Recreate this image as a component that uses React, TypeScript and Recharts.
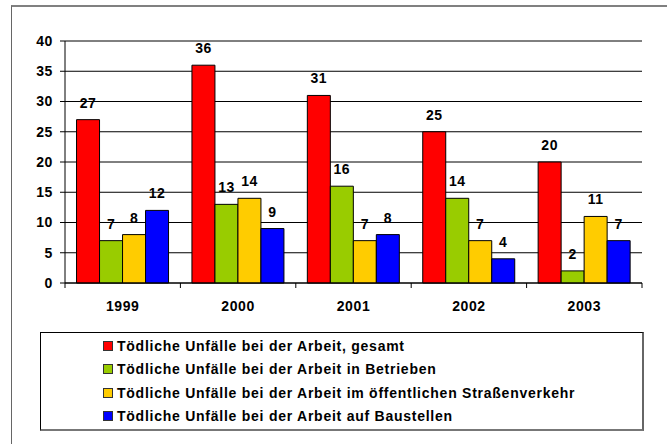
import { BarChart, Bar, XAxis, YAxis, CartesianGrid, Legend, LabelList } from 'recharts'

const years = ['1999', '2000', '2001', '2002', '2003']
const gesamt = [27, 36, 31, 25, 20]
const betrieben = [7, 13, 16, 14, 2]
const strassenverkehr = [8, 14, 7, 7, 11]
const baustellen = [12, 9, 8, 4, 7]
const yTicks = [0, 5, 10, 15, 20, 25, 30, 35, 40]

const series = [
    { key: 'gesamt', name: 'Tödliche Unfälle bei der Arbeit, gesamt', color: '#ff0000' },
    { key: 'betrieben', name: 'Tödliche Unfälle bei der Arbeit in Betrieben', color: '#99cc00' },
    { key: 'strasse', name: 'Tödliche Unfälle bei der Arbeit im öffentlichen Straßenverkehr', color: '#ffcc00' },
    { key: 'bau', name: 'Tödliche Unfälle bei der Arbeit auf Baustellen', color: '#0000ff' },
]

const data = years.map((year, i) => ({
    year,
    gesamt: gesamt[i],
    betrieben: betrieben[i],
    strasse: strassenverkehr[i],
    bau: baustellen[i],
}))

const font = '"Liberation Sans", Arial, sans-serif'
const band = (642 - 65) / years.length

// category labels plus tick marks on the category borders
const YearTick = (props: any) => {
    const { x, y, payload, index } = props
    const left = x - band / 2
    return (
        <g>
            <line x1={left} y1={y - 8} x2={left} y2={y - 3} stroke="#000" />
            {index === years.length - 1 && (
                <line x1={left + band} y1={y - 8} x2={left + band} y2={y - 3} stroke="#000" />
            )}
            <text x={x} y={y + 20} textAnchor="middle" fontFamily={font} fontWeight="bold" fontSize={14} letterSpacing={0.6} fill="#000">
                {payload.value}
            </text>
        </g>
    )
}

// legend keeps the series order, not the reversed payload
const LegendBox = () => (
    <div style={{
        width: '100%', height: '100%', boxSizing: 'border-box',
        border: '1px solid #000', borderBottom: '2px solid #777', borderRight: '2px solid #666',
        background: '#fff', padding: '1px 0 0 62px',
    }}>
        {series.map((s) => (
            <div key={s.key} style={{ display: 'flex', alignItems: 'center', height: 23.5, fontFamily: font, fontWeight: 'bold', fontSize: 14, letterSpacing: 0.75, color: '#000', whiteSpace: 'nowrap' }}>
                <span style={{ width: 8, height: 8, background: s.color, border: '1px solid #333', marginRight: 4, flex: 'none' }} />
                {s.name}
            </div>
        ))}
    </div>
)

export default function App() {
    return (
        <div style={{ position: 'absolute', left: 0, top: 0, width: 667, height: 444, background: '#fff', overflow: 'hidden' }}>
            <div style={{ position: 'absolute', left: 11, top: 5, width: 700, height: 460, borderTop: '2px solid #808080', borderLeft: '1px solid #666' }} />
            <div style={{ position: 'absolute', left: 0, top: 0 }}>
                <BarChart
                    width={667}
                    height={444}
                    data={data}
                    margin={{ top: 41, right: 25, left: 25, bottom: 131 }}
                    barCategoryGap="10%"
                    barGap={0}
                >
                    <CartesianGrid vertical={false} stroke="#000" />
                    <XAxis
                        dataKey="year"
                        height={30}
                        tickLine={false}
                        axisLine={{ stroke: '#000' }}
                        tick={<YearTick />}
                        interval={0}
                    />
                    <YAxis
                        width={40}
                        domain={[0, 40]}
                        ticks={yTicks}
                        interval={0}
                        axisLine={{ stroke: '#000' }}
                        tickLine={{ stroke: '#000' }}
                        tickSize={5}
                        tickMargin={7}
                        tick={{ fontFamily: font, fontWeight: 'bold', fontSize: 14, fill: '#000', letterSpacing: 0.6 }}
                    />
                    <YAxis yAxisId="right" orientation="right" width={0} tick={false} tickLine={false} axisLine={{ stroke: '#000' }} />
                    <Legend
                        layout="vertical"
                        align="center"
                        verticalAlign="middle"
                        content={<LegendBox />}
                        wrapperStyle={{ left: 40, top: 332, width: 604, height: 99 }}
                    />
                    {series.map((s) => (
                        <Bar key={s.key} dataKey={s.key} name={s.name} fill={s.color} stroke="#000" strokeWidth={1} isAnimationActive={false}>
                            <LabelList dataKey={s.key} position="top" offset={12} style={{ fontFamily: font, fontWeight: 'bold', fontSize: 14, fill: '#000', letterSpacing: 0.5 }} />
                        </Bar>
                    ))}
                </BarChart>
            </div>
        </div>
    )
}
